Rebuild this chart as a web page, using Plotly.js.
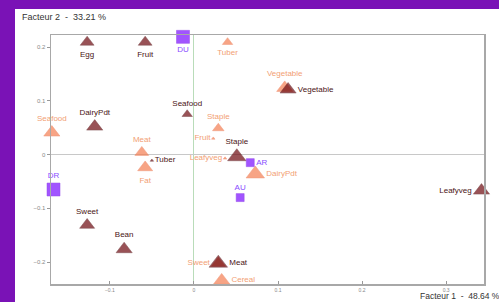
<!DOCTYPE html>
<html>
<head>
<meta charset="utf-8">
<script src="https://cdn.plot.ly/plotly-3.0.1.min.js"></script>
<style>
  html, body { margin: 0; padding: 0; width: 499px; height: 302px; overflow: hidden; background: #7a12b6; }
  #chart { position: absolute; left: 15px; top: 9px; width: 484px; height: 293px; background: #fff; }
</style>
</head>
<body>
<div id="chart"></div>
<script>
// Group A (dark red triangles)
const darkLabels = ["Egg", "Fruit", "Seafood", "DairyPdt", "Staple", "Vegetable", "Sweet", "Bean", "Meat", "Leafyveg", "Tuber"];
const darkF1 = [-0.127, -0.058, -0.008, -0.118, 0.051, 0.112, -0.127, -0.083, 0.029, 0.342, -0.050];
const darkF2 = [0.209, 0.209, 0.075, 0.052, -0.004, 0.121, -0.131, -0.176, -0.202, -0.067, -0.011];
const darkWeight = [12, 12, 9, 14, 16, 14, 13, 14, 16, 14, 3];

// Group B (orange triangles)
const orangeLabels = ["Tuber", "Vegetable", "Seafood", "Staple", "Fruit", "Meat", "Fat", "Leafyveg", "DairyPdt", "Sweet", "Cereal"];
const orangeF1 = [0.040, 0.108, -0.169, 0.029, 0.023, -0.062, -0.058, 0.037, 0.073, 0.029, 0.033];
const orangeF2 = [0.209, 0.124, 0.041, 0.049, 0.030, 0.004, -0.024, -0.007, -0.036, -0.202, -0.234];
const orangeWeight = [9, 14, 14, 10, 3, 12, 13, 3, 16, 12, 14];

// Group C (purple squares)
const sqLabels = ["DU", "DR", "AR", "AU"];
const sqF1 = [-0.013, -0.167, 0.067, 0.055];
const sqF2 = [0.219, -0.065, -0.015, -0.080];
const sqWeight = [13, 13, 8, 8];

// label placement (style)
const darkPos = ["bottom center", "bottom center", "top center", "top center", "top center", "middle right", "top center", "top center", "middle right", "middle left", "middle right"];
const orangePos = ["bottom center", "top center", "top center", "top center", "middle left", "top center", "bottom center", "middle left", "middle right", "middle left", "middle right"];
const sqPos = ["bottom center", "top center", "middle right", "top center"];

const fontFam = "Liberation Sans, Arial, sans-serif";

const traces = [
  {
    x: orangeF1, y: orangeF2, text: orangeLabels, type: "scatter", mode: "markers+text",
    textposition: orangePos,
    textfont: { family: fontFam, size: 8, color: "#f2a074" },
    marker: { symbol: "triangle-up", size: orangeWeight, color: "#f47e52", line: { color: "#e86a40", width: 0.5 } },
    cliponaxis: false, hoverinfo: "text"
  },
  {
    x: darkF1, y: darkF2, text: darkLabels, type: "scatter", mode: "markers+text",
    textposition: darkPos,
    textfont: { family: fontFam, size: 8, color: "#4a1414" },
    marker: { symbol: "triangle-up", size: darkWeight, color: "#6e0a10", line: { color: "#4a0608", width: 0.5 } },
    cliponaxis: false, hoverinfo: "text"
  },
  {
    x: sqF1, y: sqF2, text: sqLabels, type: "scatter", mode: "markers+text",
    textposition: sqPos,
    textfont: { family: fontFam, size: 8, color: "#8a4cff" },
    marker: { symbol: "square", size: sqWeight, color: "#7a0cff", line: { color: "#6a00e0", width: 0.5 } },
    cliponaxis: false, hoverinfo: "text"
  }
];

const layout = {
  width: 484, height: 293,
  margin: { l: 36, r: 15, t: 26, b: 18 },
  paper_bgcolor: "#ffffff", plot_bgcolor: "#ffffff",
  showlegend: false,
  font: { family: fontFam },
  title: {
    text: "Facteur 2  -  33.21 %",
    x: 0.0145, xanchor: "left", xref: "container",
    y: 0.973, yanchor: "middle", yref: "container",
    font: { family: fontFam, size: 9, color: "#333" }
  },
  xaxis: {
    range: [-0.170, 0.345], dtick: 0.1, tick0: 0,
    showgrid: false, zeroline: true, zerolinecolor: "#b9dcb9", zerolinewidth: 1,
    showline: true, mirror: true, linecolor: "#a8a8a8", linewidth: 1.5,
    ticks: "inside", ticklen: 3, tickcolor: "#999",
    tickfont: { family: fontFam, size: 5, color: "#888" }
  },
  yaxis: {
    range: [-0.2407, 0.2224], dtick: 0.1, tick0: 0,
    showgrid: false, zeroline: true, zerolinecolor: "#c8c8c8", zerolinewidth: 1,
    showline: true, mirror: true, linecolor: "#a8a8a8", linewidth: 1.5,
    ticks: "outside", ticklen: 3, tickcolor: "#999",
    tickfont: { family: fontFam, size: 6, color: "#888" }
  },
  annotations: [
    {
      text: "Facteur 1  -  48.64 %", xref: "paper", yref: "paper",
      x: 1.04, xanchor: "right", y: -0.0723, yanchor: "bottom", showarrow: false,
      borderpad: 0,
      font: { family: fontFam, size: 8.5, color: "#333" }
    }
  ]
};

Plotly.newPlot("chart", traces, layout, { displayModeBar: false, staticPlot: true });
</script>
</body>
</html>
